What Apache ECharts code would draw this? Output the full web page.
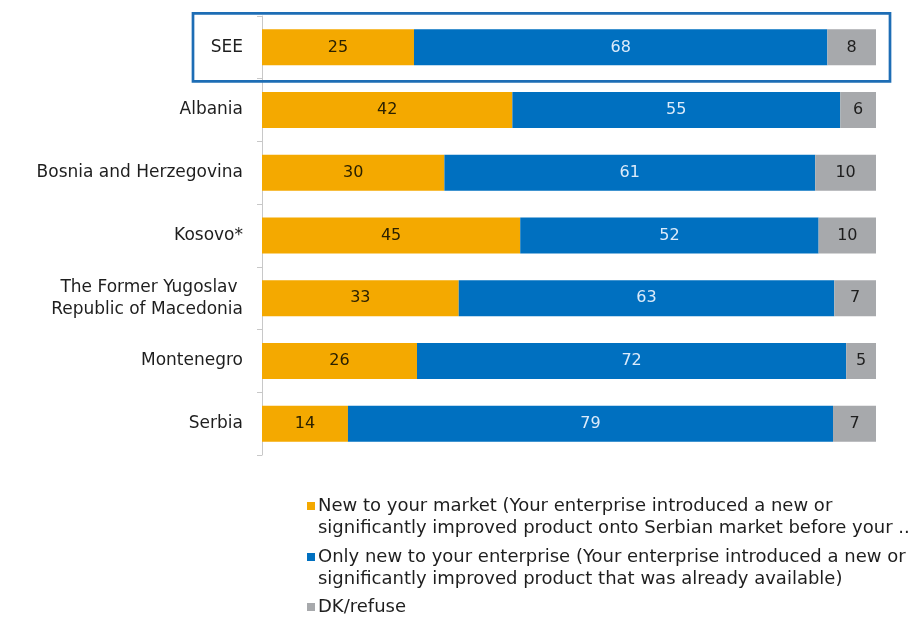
<!DOCTYPE html>
<html>
<head>
<meta charset="utf-8">
<script src="https://cdn.jsdelivr.net/npm/echarts@6/dist/echarts.min.js"></script>
<style>html,body{margin:0;padding:0;background:#fff;}#c{width:921px;height:619px;}</style>
</head>
<body>
<div id="c"></div>
<script>
const categories = ['SEE', 'Albania', 'Bosnia and Herzegovina', 'Kosovo*', 'The Former Yugoslav \nRepublic of Macedonia', 'Montenegro', 'Serbia'];
const newToMarket = [25, 42, 30, 45, 33, 26, 14];
const newToEnterprise = [68, 55, 61, 52, 63, 72, 79];
const dkRefuse = [8, 6, 10, 10, 7, 5, 7];
const seriesNames = [
  'New to your market (Your enterprise introduced a new or\nsignificantly improved product onto Serbian market before your ..',
  'Only new to your enterprise (Your enterprise introduced a new or\nsignificantly improved product that was already available)',
  'DK/refuse'
];
const colors = ['#F4A900', '#0070C0', '#A7A9AC'];
const labelColors = ['#2b2100', '#dcebfa', '#1e1e1e'];
const FONT = '"DejaVu Sans", sans-serif';

const raw = [newToMarket, newToEnterprise, dkRefuse];
const sums = categories.map((_, i) => raw.reduce((s, arr) => s + arr[i], 0));

const series = raw.map((arr, k) => ({
  name: seriesNames[k],
  type: 'bar',
  stack: 'total',
  barWidth: 36,
  itemStyle: { color: colors[k] },
  label: {
    show: true,
    position: 'inside',
    color: labelColors[k],
    fontFamily: FONT,
    fontSize: 16,
    formatter: p => String(arr[p.dataIndex])
  },
  data: arr.map((v, i) => v / sums[i] * 100)
}));

const iconTop = 'path://M0,7h8v8h-8z M0,0h0.05v0.05h-0.05z M0,45h0.05v0.05h-0.05z';

const chart = echarts.init(document.getElementById('c'), null, { renderer: 'canvas' });
chart.setOption({
  animation: false,
  backgroundColor: '#fff',
  grid: { left: 262, right: 45, top: 16, bottom: 164 },
  xAxis: { type: 'value', min: 0, max: 100, show: false },
  yAxis: {
    type: 'category',
    inverse: true,
    data: categories,
    axisLine: { show: true, lineStyle: { color: '#c8c8c8', width: 1 } },
    axisTick: { show: true, length: 5, lineStyle: { color: '#c8c8c8' } },
    axisLabel: { color: '#1e1e1e', fontFamily: FONT, fontSize: 17, margin: 19, lineHeight: 22 }
  },
  legend: [
    {
      data: [
        { name: seriesNames[0], icon: iconTop },
        { name: seriesNames[1], icon: iconTop }
      ],
      orient: 'vertical', left: 307, top: 495, padding: 0,
      itemWidth: 8, itemHeight: 45, itemGap: 6,
      textStyle: { fontFamily: FONT, fontSize: 18, color: '#1e1e1e', lineHeight: 22.5, padding: [0, 0, 0, -2] },
      selectedMode: false
    },
    {
      data: [{ name: seriesNames[2], icon: 'rect' }],
      orient: 'vertical', left: 307, top: 598, padding: 0,
      itemWidth: 8, itemHeight: 8,
      textStyle: { fontFamily: FONT, fontSize: 18, color: '#1e1e1e', padding: [0, 0, 0, -2] },
      selectedMode: false
    }
  ],
  series: series
});

const c = chart.convertToPixel({ gridIndex: 0 }, [0, 0]);
const r = chart.convertToPixel({ gridIndex: 0 }, [100, 0]);
chart.setOption({
  graphic: [{
    type: 'rect',
    shape: { x: c[0] - 69, y: c[1] - 34, width: r[0] - c[0] + 83, height: 68 },
    style: { fill: 'none', stroke: '#1D6DB5', lineWidth: 2.7 },
    z: 10
  }]
});
</script>
</body>
</html>
